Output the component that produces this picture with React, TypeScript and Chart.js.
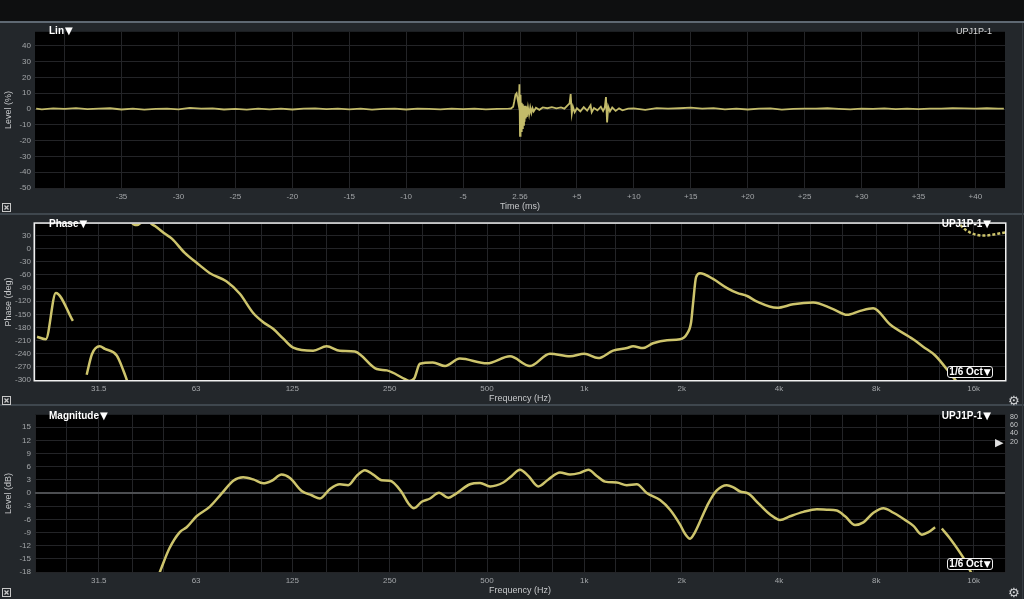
import React, { useEffect, useRef } from 'react';
import { Chart, registerables } from 'chart.js';
Chart.register(...registerables);

const FONT = '"Liberation Sans", Arial, Helvetica, sans-serif';
const TRACE = '#cdc46c';
const GRID = '#232427';
const TICK_COLOR = '#a3a6a9';
const TITLE_COLOR = '#c6c8ca';

// ---------- Impulse response (top panel) ----------
const irTimeMs = [
  -42.5, -42, -41, -40, -39, -38, -37, -36, -35, -34, -33, -32, -31, -30, -29, -28, -27, -26, -25, -24, -23, -22,
  -21, -20, -19, -18, -17, -16, -15, -14, -13, -12, -11, -10, -9, -8, -7, -6, -5, -4, -3, -2, -1,
  -0.8, -0.6, -0.5, -0.4, -0.3, -0.2, -0.1, -0.05, 0, 0.05, 0.1, 0.15, 0.2, 0.25, 0.3, 0.35, 0.4, 0.45, 0.5, 0.55,
  0.6, 0.7, 0.8, 0.9, 1.0, 1.1, 1.2, 1.4, 1.7, 2.0, 2.4, 2.8, 3.2, 3.6, 3.9, 4.2, 4.35, 4.45, 4.55, 4.65, 4.8,
  5.0, 5.3, 5.6, 5.9, 6.2, 6.3, 6.5, 6.8, 7.1, 7.3, 7.45, 7.55, 7.65, 7.75, 7.9, 8.1, 8.4, 8.7, 9.0, 9.5,
  10, 11, 12, 13, 14, 15, 16, 17, 18, 19, 20, 21, 22, 23, 24, 25, 26, 27, 28, 29, 30, 31, 32, 33, 34, 35, 36,
  37, 38, 39, 40, 41, 42, 42.5,
];
const irLevelPct = [
  0.3, -0.2, 0.4, 0.1, 0.6, -0.1, 0.3, 0.5, -0.3, 0.2, -0.4, 0.1, 0.3, -0.2, 0.7, 0.2, 0.4, -0.3, 0.1, -0.4, 0.2, -0.2,
  0.3, -0.3, 0.2, 0.4, -0.1, 0.2, -0.2, 0.3, -0.4, 0.1, 0.2, -0.3, 0.3, 0.1, -0.2, 0.3, -0.1, 0.2, -0.2, 0.1, 0.2,
  0.3, 1.5, 5, 9, 10, 6, 2, 15.7, -17, 9, -14, 4, -12, 3, -10, 2, -8, 2, -6, 1.5,
  -5, 1, -3.5, 1, -2.5, 0.5, -1.5, 0.8, -0.5, 1.0, 0.5, 1.2, 0.4, 1.0, 0.2, 2.5, 3.5, 9.5, -3, 1.5, -2,
  0.5, -1.5, 1.2, -1.0, 2.4, -2, 0.6, -0.8, 1.5, -1.2, 1, 7.6, -8.5, 1.5, -1.5, 1.0, -1.2, 0.4, -0.8, 0.2,
  0.4, -0.5, 0.6, 0.2, 0.5, 0.9, 0.3, 0.6, -0.2, 0.3, -0.3, 0.2, 0.4, -0.4, 0.1, 0.2, 0.3, 0.5, 0.1, -0.2, 0.3,
  0.1, 0.4, -0.1, 0.2, 0.0, 0.3, 0.2, 0.5, 0.4, 0.3, 0.5, 0.2, 0.3,
];
const timeTicks = [-40, -35, -30, -25, -20, -15, -10, -5, 0, 5, 10, 15, 20, 25, 30, 35, 40];
const levelTicks = [-50, -40, -30, -20, -10, 0, 10, 20, 30, 40];

// ---------- Phase (middle panel) ----------
const phaseFreqHz = [
  20.3, 21.6, 23.2, 26.2, 27.5,
  28.9, 30.0, 31.7, 32.9, 35.8, 37.6, 38.6, 39.0,
  39.5, 40.5, 41.4, 42.5, 44.5, 45.8, 47.0, 50.5, 53.0, 58.1, 64.7, 69.5, 78.3, 86.0, 94.6, 101.6, 109, 117,
  125.8, 145, 159.5, 175.4, 195, 228, 245, 279, 288, 298, 310, 340, 371, 412, 500, 589, 679, 783, 903, 1000,
  1103, 1227, 1355, 1415, 1519, 1631, 1803, 1977, 2079, 2139, 2169, 2216, 2280, 2501, 2764, 2967, 3187, 3422,
  3946, 4422, 5099, 5880, 6498, 7130, 7820, 8826, 10398, 11165, 12166, 13831, 14200, 14250,
  14300, 14540, 15610, 17125, 20000,
];
const phaseDeg = [
  -201, -207, -101, -165, null,
  -288, -241, -223, -229, -244, -280, -303, null,
  62, 55, 54, 59, 66, 57, 52, 34, 23, -9.5, -38, -56, -75, -103, -147, -168, -183, -205,
  -226, -233, -223, -233, -235, -275, -278, -298, -302, -296, -263, -260, -268, -251, -262, -246, -268, -240, -246, -240,
  -250, -233, -227, -223, -227, -216, -209, -207, -194, -168, -125, -65, -56, -69, -90, -101, -108, -121,
  -135, -127, -123, -138, -151, -142, -136, -173, -207, -224, -244, -294, -304, null,
  64, 55, 37, 30, 37,
];
const phaseTicks = [-300, -270, -240, -210, -180, -150, -120, -90, -60, -30, 0, 30];

// ---------- Magnitude (bottom panel) ----------
const magFreqHz = [
  48.6, 52.1, 56.1, 58.9, 63.2, 69.5, 75.5, 82.1, 88.1, 94.6, 101.6, 107.9, 115.8, 122.9, 133.6, 143.4, 152.2,
  163.4, 175.4, 186.1, 197.6, 209.6, 222.4, 236.2, 250.5, 272.3, 285.5, 297.3, 314.0, 333.3, 355.3, 379.5, 398.2,
  443.0, 475.7, 510.9, 561.6, 596.3, 632.5, 670.9, 720.5, 773.9, 840.9, 903, 969.9, 1028.8, 1092.3, 1159,
  1259.7, 1352.7, 1452.7, 1559.8, 1714.7, 1841.4, 1977.6, 2049, 2123, 2200, 2308, 2419, 2568, 2758, 2891,
  3032, 3217, 3454, 3755, 4031, 4328, 4759, 5238, 5623, 6036, 6405, 6877, 7296, 7836, 8414, 9037, 9939,
  10418, 11065, 11600, 12159, 12450, 12757, 13537, 14880, 15603, 16290,
];
const magDb = [
  -18.1, -12.6, -8.9, -7.8, -5.3, -3.1, -0.15, 2.8, 3.6, 3.1, 2.2, 2.8, 4.2, 3.4, 0.44, -0.5, -1.25,
  0.94, 2.0, 1.8, 3.9, 5.2, 4.2, 2.9, 2.8, 0.2, -2.35, -3.45, -2.0, -1.25, 0.07, -1.1, -0.3,
  2.0, 2.3, 1.5, 2.4, 3.9, 5.3, 3.9, 1.5, 3.1, 4.7, 4.2, 4.6, 5.3, 3.9, 2.6,
  2.4, 1.8, 2.0, 0, -1.6, -3.8, -7.2, -9.3, -10.4, -8.9, -5.6, -2.35, 0.6, 1.8, 1.3,
  0.35, -0.15, -2.35, -4.9, -6.15, -5.3, -4.3, -3.7, -3.8, -4.0, -5.3, -7.3, -6.7, -4.5, -3.45, -4.5, -6.4,
  -7.5, -9.5, -8.9, -7.8, null, -8.1, -10.4, -14.8, -17.7, -20,
];
const magTicks = [-18, -15, -12, -9, -6, -3, 0, 3, 6, 9, 12, 15];

// ---------- Frequency axis (1/3 octave grid, octave labels) ----------
const freqGridHz = [
  20, 25, 31.5, 40, 50, 63, 80, 100, 125, 160, 200, 250, 315, 400, 500, 630, 800, 1000, 1250, 1600, 2000,
  2500, 3150, 4000, 5000, 6300, 8000, 10000, 12500, 16000, 20000,
];
const freqLabelHz = [31.5, 63, 125, 250, 500, 1000, 2000, 4000, 8000, 16000];
const freqLabelText = ['31.5', '63', '125', '250', '500', '1k', '2k', '4k', '8k', '16k'];

const plotFrame = {
  id: 'plotFrame',
  beforeDraw(chart: any) {
    const { ctx, chartArea: ca } = chart;
    ctx.save();
    ctx.fillStyle = '#000';
    ctx.fillRect(ca.left, ca.top, ca.right - ca.left, ca.bottom - ca.top);
    ctx.restore();
  },
  afterDraw(chart: any, _a: any, opts: any) {
    if (!opts || !opts.border) return;
    const { ctx, chartArea: ca } = chart;
    ctx.save();
    ctx.strokeStyle = '#f0f0f0';
    ctx.lineWidth = 1.5;
    ctx.strokeRect(ca.left - 0.75, ca.top - 0.75, ca.right - ca.left + 1.5, ca.bottom - ca.top + 1.5);
    ctx.restore();
  },
};

function yScale(min: number, max: number, ticks: number[], title: string, zero = false) {
  return {
    type: 'linear',
    position: 'left',
    min,
    max,
    afterFit: (s: any) => { s.width = 35; },
    afterBuildTicks: (s: any) => { s.ticks = ticks.map((v) => ({ value: v })); },
    grid: {
      color: (c: any) => (zero && c.tick && c.tick.value === 0 ? '#4c4e51' : GRID),
      lineWidth: (c: any) => (zero && c.tick && c.tick.value === 0 ? 2 : 1),
      drawTicks: false,
    },
    border: { display: false },
    ticks: { color: TICK_COLOR, font: { family: FONT, size: 8 }, padding: 4, autoSkip: false },
    title: {
      display: true, text: title, color: TITLE_COLOR,
      font: { family: FONT, size: 9 }, padding: { top: 3, bottom: 0 },
    },
  };
}

function xScale(type: string, min: number, max: number, ticks: number[], label: (v: number) => string,
  title: string, height: number, titlePad: number) {
  return {
    type,
    position: 'bottom',
    min,
    max,
    afterFit: (s: any) => { s.height = height; },
    afterBuildTicks: (s: any) => { s.ticks = ticks.map((v) => ({ value: v })); },
    grid: { color: GRID, drawTicks: false },
    border: { display: false },
    ticks: {
      color: TICK_COLOR, font: { family: FONT, size: 8 }, padding: 4, autoSkip: false,
      maxRotation: 0, minRotation: 0, callback: (v: any) => label(Number(v)),
    },
    title: {
      display: true, text: title, color: TITLE_COLOR,
      font: { family: FONT, size: 9 }, padding: { top: 0, bottom: titlePad },
    },
  };
}

const freqLabel = (v: number) => {
  const i = freqLabelHz.indexOf(v);
  return i >= 0 ? freqLabelText[i] : '';
};
const timeLabel = (v: number) => (v === -40 ? '' : v === 0 ? '2.56' : v > 0 ? '+' + v : String(v));

function baseOptions(padTop: number, scales: any, border: boolean) {
  return {
    responsive: false,
    maintainAspectRatio: false,
    animation: false,
    layout: { padding: { top: padTop, right: 19, left: 0, bottom: 0 } },
    plugins: { legend: { display: false }, tooltip: { enabled: false }, plotFrame: { border } },
    elements: { point: { radius: 0 } },
    scales,
  };
}

function ChartCanvas({ top, height, build }: { top: number; height: number; build: () => any }) {
  const ref = useRef<HTMLCanvasElement>(null);
  useEffect(() => {
    const chart = new Chart(ref.current as HTMLCanvasElement, build());
    return () => chart.destroy();
  }, []);
  return (
    <canvas
      ref={ref}
      width={1024}
      height={height}
      style={{ position: 'absolute', left: 0, top, width: 1024, height, display: 'block' }}
    />
  );
}

const buildImpulse = () => ({
  type: 'line',
  data: {
    datasets: [{
      data: irTimeMs.map((t, i) => ({ x: t, y: irLevelPct[i] })),
      borderColor: '#c3bb6a', borderWidth: 1.8, pointRadius: 0, tension: 0,
    }],
  },
  options: baseOptions(1, {
    x: xScale('linear', -42.6, 42.6, timeTicks, timeLabel, 'Time (ms)', 25, 1),
    y: yScale(-50, 48.9, levelTicks, 'Level (%)'),
  }, false),
  plugins: [plotFrame],
});

const buildPhase = () => ({
  type: 'line',
  data: {
    datasets: [{
      data: phaseFreqHz.map((f, i) => ({ x: f, y: phaseDeg[i] })),
      borderColor: TRACE, borderWidth: 2.5, pointRadius: 0, cubicInterpolationMode: 'monotone',
      spanGaps: false,
      segment: { borderDash: (c: any) => (c.p0.parsed.x >= 14300 ? [3, 2] : undefined) },
    }],
  },
  options: baseOptions(1, {
    x: xScale('logarithmic', 20, 20000, freqGridHz, freqLabel, 'Frequency (Hz)', 24, 0),
    y: yScale(-300, 57, phaseTicks, 'Phase (deg)'),
  }, true),
  plugins: [plotFrame],
});

const buildMag = () => ({
  type: 'line',
  data: {
    datasets: [{
      data: magFreqHz.map((f, i) => ({ x: f, y: magDb[i] })),
      borderColor: TRACE, borderWidth: 2.5, pointRadius: 0, cubicInterpolationMode: 'monotone',
      spanGaps: false,
    }],
  },
  options: baseOptions(2, {
    x: xScale('logarithmic', 20, 20000, freqGridHz, freqLabel, 'Frequency (Hz)', 27, 3),
    y: yScale(-18, 17.83, magTicks, 'Level (dB)', true),
  }, false),
  plugins: [plotFrame],
});

function Txt(p: { x: number; y: number; children: any; size?: number; bold?: boolean; color?: string; right?: boolean }) {
  return (
    <div
      style={{
        position: 'absolute',
        left: p.right ? undefined : p.x,
        right: p.right ? 1024 - p.x : undefined,
        top: p.y,
        transform: 'translateY(-50%)',
        fontSize: p.size ?? 10,
        fontWeight: p.bold ? 700 : 400,
        color: p.color ?? '#ffffff',
        lineHeight: 1,
        whiteSpace: 'nowrap',
        fontFamily: FONT,
      }}
    >
      {p.children}
    </div>
  );
}

const Tri = ({ size = 10 }: { size?: number }) => (
  <span style={{ fontSize: size, marginLeft: 1, fontFamily: '"DejaVu Sans", sans-serif' }}>▼</span>
);

function OctBox({ y }: { y: number }) {
  return (
    <div
      style={{
        position: 'absolute', left: 947, top: y, width: 44, height: 10, border: '1px solid #f0f0f0',
        borderRadius: 3, background: '#000', color: '#fff', fontFamily: FONT, fontSize: 10, fontWeight: 700,
        lineHeight: '10px', textAlign: 'center', whiteSpace: 'nowrap', overflow: 'hidden',
      }}
    >
      1/6 Oct<Tri size={9} />
    </div>
  );
}

function XBox({ y }: { y: number }) {
  return (
    <svg width={9} height={9} style={{ position: 'absolute', left: 2, top: y }}>
      <rect x={0.5} y={0.5} width={8} height={8} fill="none" stroke="#c8c8c8" strokeWidth={1} />
      <line x1={2.5} y1={2.5} x2={6.5} y2={6.5} stroke="#c8c8c8" strokeWidth={1.2} />
      <line x1={6.5} y1={2.5} x2={2.5} y2={6.5} stroke="#c8c8c8" strokeWidth={1.2} />
    </svg>
  );
}

function Gear({ y }: { y: number }) {
  return (
    <div style={{ position: 'absolute', left: 1008, top: y, fontSize: 13, lineHeight: '13px', color: '#cfd1d3', fontFamily: '"DejaVu Sans", sans-serif' }}>⚙</div>
  );
}

export default function App() {
  return (
    <div style={{ position: 'fixed', left: 0, top: 0, width: 1024, height: 599, background: '#23272b', overflow: 'hidden', fontFamily: FONT }}>
      <div style={{ position: 'absolute', left: 0, top: 0, width: 1024, height: 21, background: '#0e0f10' }} />
      <div style={{ position: 'absolute', left: 0, top: 21, width: 1024, height: 2, background: '#5f6973' }} />
      <ChartCanvas top={23} height={190} build={buildImpulse} />
      <div style={{ position: 'absolute', left: 0, top: 213, width: 1024, height: 2, background: '#3f474e' }} />
      <ChartCanvas top={215} height={189} build={buildPhase} />
      <div style={{ position: 'absolute', left: 0, top: 404, width: 1024, height: 2, background: '#3f474e' }} />
      <ChartCanvas top={406} height={193} build={buildMag} />
      <div style={{ position: 'absolute', left: 1022, top: 23, width: 1, height: 576, background: '#353b41' }} />

      <Txt x={49} y={31} bold>Lin<Tri /></Txt>
      <Txt x={992} y={31} size={9} color="#d8d8d8" right>UPJ1P-1</Txt>
      <XBox y={203} />

      <Txt x={49} y={224} bold>Phase<Tri /></Txt>
      <Txt x={991} y={224} bold right>UPJ1P-1<Tri /></Txt>
      <OctBox y={366} />
      <XBox y={396} />
      <Gear y={394} />

      <Txt x={49} y={416} bold>Magnitude<Tri /></Txt>
      <Txt x={991} y={416} bold right>UPJ1P-1<Tri /></Txt>
      <OctBox y={558} />
      <XBox y={588} />
      <Gear y={586} />

      <Txt x={1010} y={416} size={7} color="#c8cacc">80</Txt>
      <Txt x={1010} y={424} size={7} color="#c8cacc">60</Txt>
      <Txt x={1010} y={432} size={7} color="#c8cacc">40</Txt>
      <Txt x={1010} y={441} size={7} color="#c8cacc">20</Txt>
      <Txt x={995} y={442} size={11} color="#e0e0e0">▶</Txt>
    </div>
  );
}
